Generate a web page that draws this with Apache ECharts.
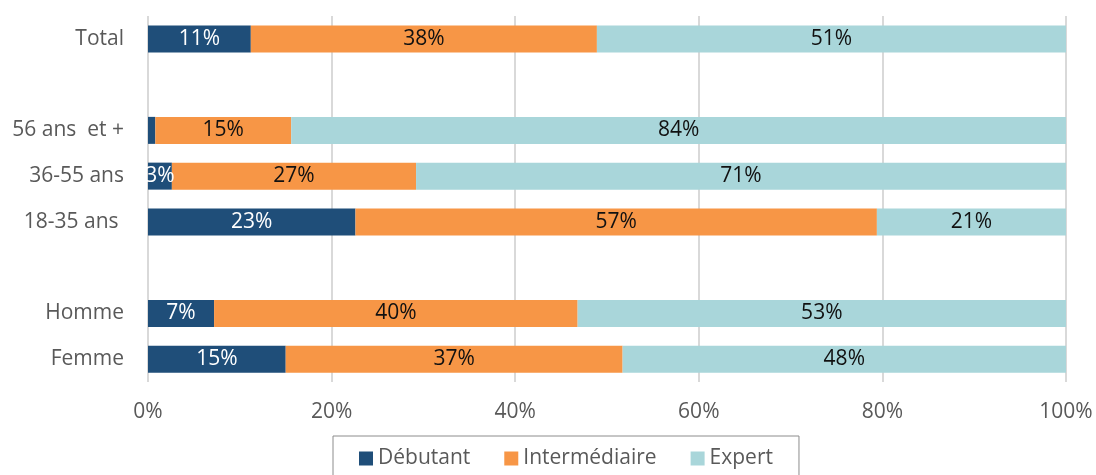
<!DOCTYPE html>
<html>
<head>
    <meta charset="utf-8">
    <script type="text/javascript" src="https://cdn.jsdelivr.net/npm/echarts@6/dist/echarts.min.js"></script>
    <style type="text/css">
        * { margin: 0; padding: 0; }
        #container { width: 1096px; height: 475px; background: #fff; }
    </style>
</head>
<body>
<div id="container"></div>
<script type="text/javascript">
    // catégories de bas en haut (les vides servent d'espaces)
    var categories = ['Femme', 'Homme', '', '18-35 ans ', '36-55 ans', '56 ans  et +', '', 'Total'];
    var debutant = [15.0, 7.2, null, 22.6, 2.6, 0.8, null, 11.2];
    var intermediaire = [36.7, 39.6, null, 56.8, 26.6, 14.8, null, 37.7];
    var expert = [48.3, 53.2, null, 20.6, 70.8, 84.4, null, 51.1];
    var seriesNames = ['Débutant', 'Intermédiaire', 'Expert'];
    var colors = ['#1F4E79', '#F79646', '#A9D6DA'];
    var labelColors = ['#ffffff', '#111111', '#111111'];
    var font = 'Open Sans';

    var dom = document.getElementById('container');
    var myChart = echarts.init(dom);

    function makeSeries(name, data, i) {
        return {
            name: name,
            type: 'bar',
            stack: 'total',
            barWidth: 27,
            data: data,
            itemStyle: { color: colors[i] },
            label: {
                show: true,
                position: 'inside',
                color: labelColors[i],
                fontSize: 21,
                fontFamily: font,
                formatter: function (p) {
                    if (p.value == null || p.value < 2) return '';
                    return Math.round(p.value) + '%';
                }
            }
        };
    }

    var option = {
        animation: false,
        color: colors,
        grid: { left: 148, right: 30, top: 16, bottom: 93 },
        legend: {
            bottom: -12,
            left: 333,
            data: seriesNames,
            itemWidth: 14,
            itemHeight: 14,
            itemGap: 34,
            icon: 'rect',
            borderColor: '#8c8c8c',
            borderWidth: 1,
            padding: [12, 26, 18, 26],
            textStyle: { color: '#595959', fontSize: 21, fontFamily: font }
        },
        xAxis: {
            type: 'value',
            min: 0,
            max: 100,
            interval: 20,
            axisLine: { show: false },
            axisTick: { show: false },
            splitLine: { show: true, lineStyle: { color: '#D9D9D9', width: 2 } },
            axisLabel: {
                formatter: '{value}%',
                color: '#595959',
                fontSize: 21,
                fontFamily: font,
                margin: 20
            }
        },
        yAxis: {
            type: 'category',
            data: categories,
            axisLine: { show: false },
            axisTick: { show: false },
            axisLabel: {
                color: '#595959',
                fontSize: 21,
                fontFamily: font,
                margin: 24
            }
        },
        series: [
            makeSeries(seriesNames[0], debutant, 0),
            makeSeries(seriesNames[1], intermediaire, 1),
            makeSeries(seriesNames[2], expert, 2)
        ]
    };
    myChart.setOption(option, true);
</script>
</body>
</html>
